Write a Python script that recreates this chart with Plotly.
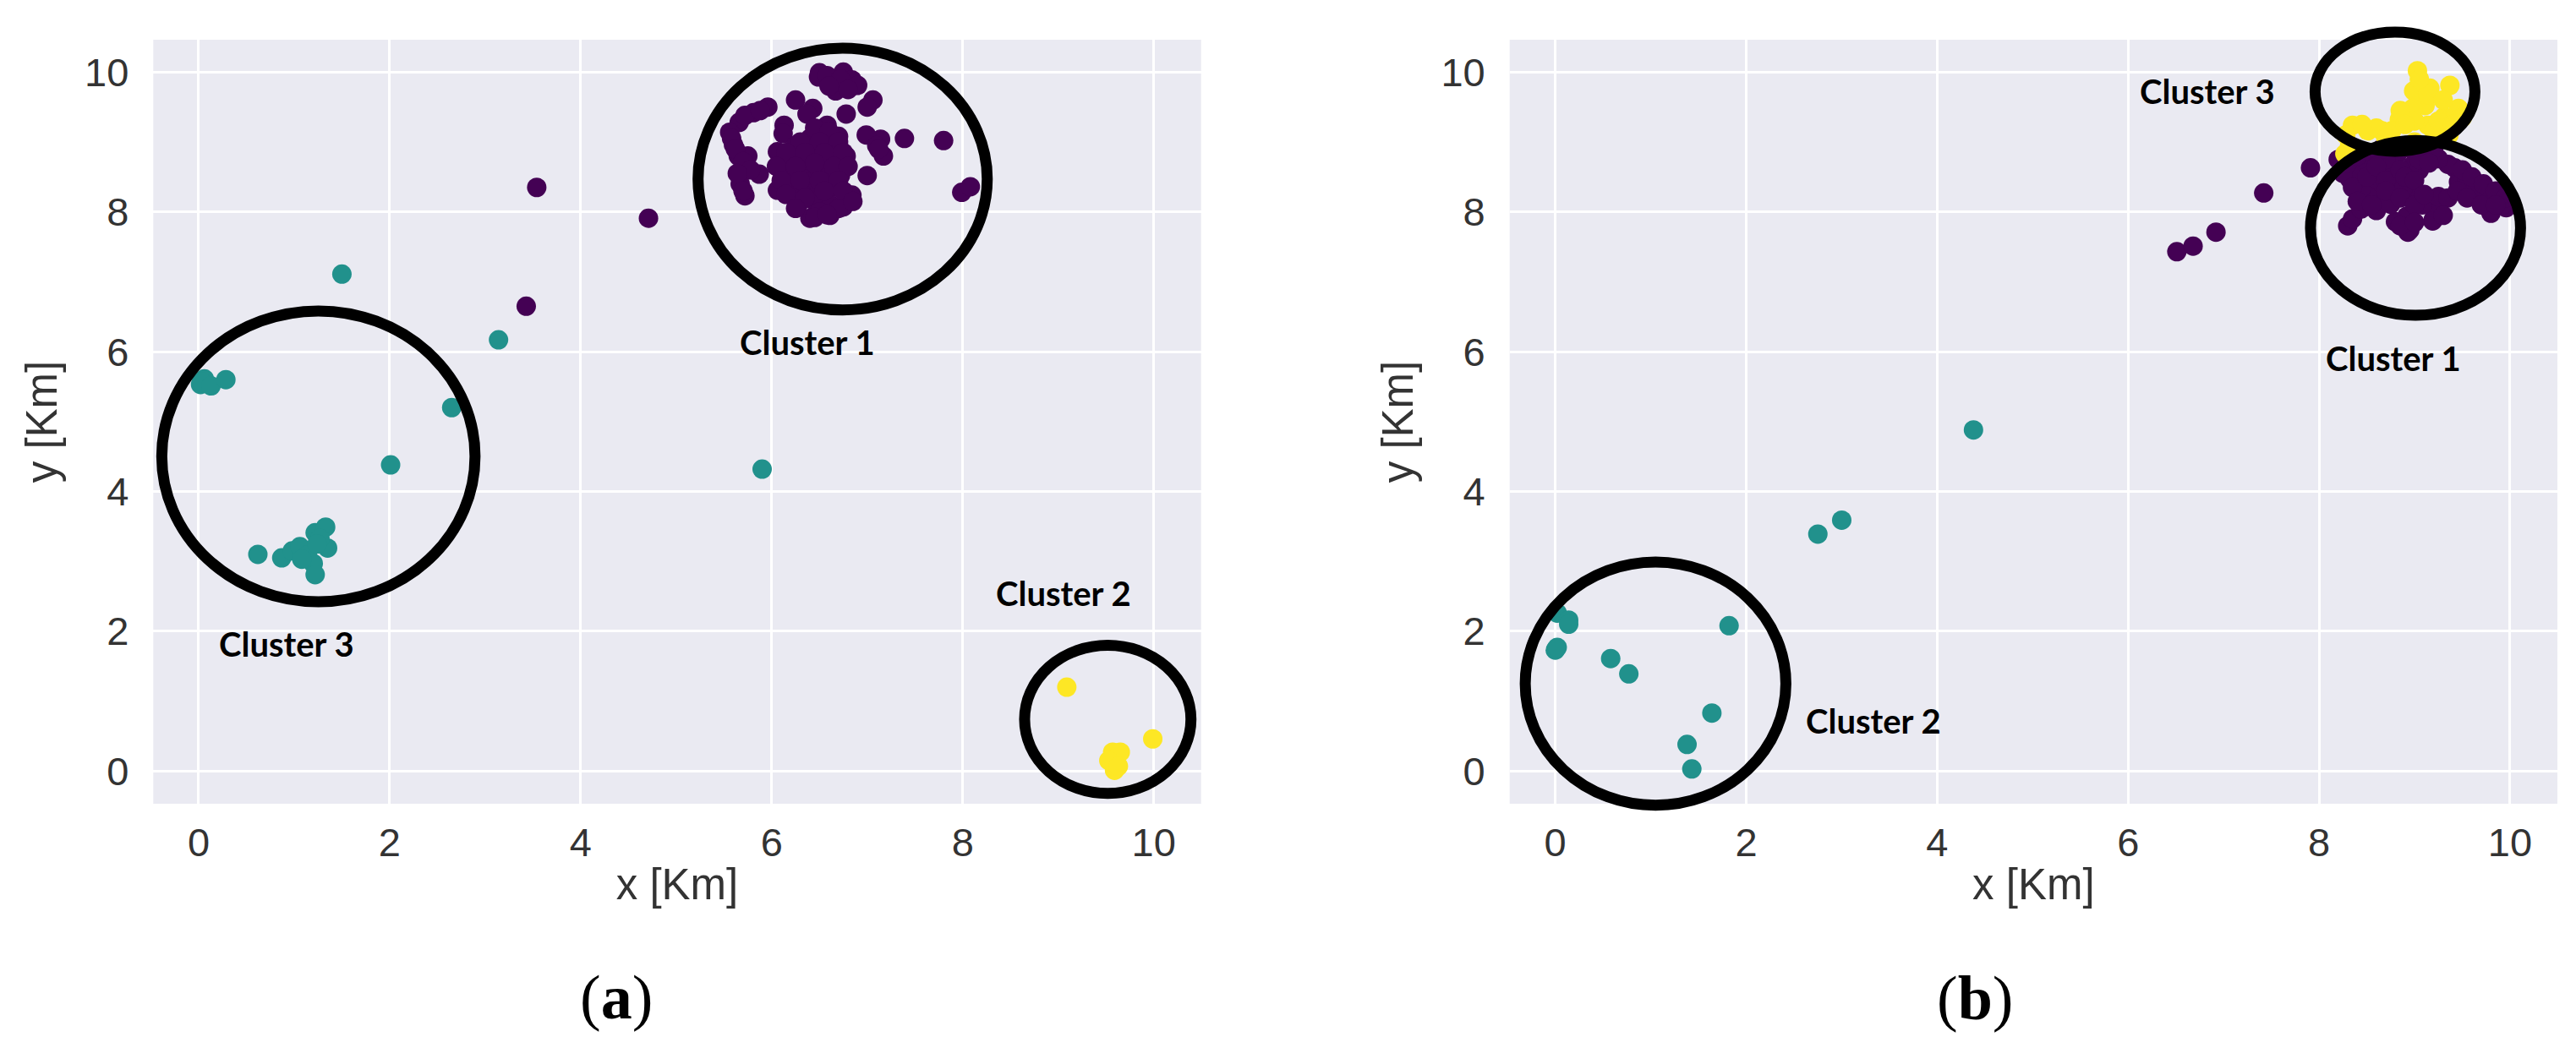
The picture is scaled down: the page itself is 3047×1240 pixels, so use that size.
import plotly.graph_objects as go

# ---------------- data (km) ----------------
# panel (a)
a_c1_x = [3.54, 4.71, 3.43,
          7.39, 7.80, 7.99, 8.08, 7.00, 7.17, 7.14, 6.99, 7.06, 7.00, 6.78, 6.75, 6.50, 6.84, 6.90, 6.67,
          6.49, 6.64, 6.25, 6.43, 6.37, 6.13, 6.12, 5.96, 5.81, 5.66, 5.56, 5.60, 5.65, 5.75, 5.72, 5.87,
          5.67, 5.72, 6.06, 6.06, 6.28, 6.40, 6.61, 6.81, 6.84, 6.75,
          6.58, 6.70, 6.78, 6.72, 6.25, 6.13, 6.22, 6.37, 6.55, 6.45, 6.61, 6.67, 6.55, 6.31, 6.43, 6.67,
          6.35, 6.50, 6.60, 6.40, 6.52, 6.30, 6.45, 6.62, 6.70, 6.20,
          6.45, 6.60, 6.30, 6.50, 6.70, 6.15, 6.35, 6.55, 6.75, 6.05, 6.25, 6.45, 6.65, 6.80,
          6.10, 6.30, 6.50, 6.70, 6.15, 6.35, 6.55, 6.75, 6.25, 6.50, 6.70, 6.85, 6.45, 6.58,
          6.58, 6.72, 6.80, 6.60, 5.58, 5.62, 5.70, 5.78, 5.64, 5.70, 5.72, 5.88, 7.10, 7.12]
a_c1_y = [8.35, 7.91, 6.65,
          9.05, 9.02, 8.28, 8.36, 8.52, 8.80, 9.04, 9.10, 9.60, 9.50, 9.40, 10.0, 9.99, 9.89, 9.81, 9.73,
          9.93, 9.85, 9.60, 9.48, 9.40, 9.24, 9.12, 9.50, 9.42, 9.28, 9.14, 8.96, 8.80, 8.80, 8.68, 8.54,
          8.40, 8.23, 8.86, 8.31, 8.11, 7.91, 7.95, 8.19, 8.24, 8.07,
          9.24, 9.08, 8.80, 8.52, 8.95, 8.68, 8.44, 8.28, 8.19, 8.92, 9.00, 8.68, 8.44, 8.60, 8.44, 8.36,
          8.75, 8.60, 8.80, 9.05, 9.10, 8.30, 8.15, 8.10, 8.95, 8.80,
          9.20, 9.15, 9.00, 9.00, 9.00, 8.85, 8.85, 8.85, 8.85, 8.65, 8.65, 8.70, 8.65, 8.65,
          8.45, 8.45, 8.45, 8.45, 8.25, 8.20, 8.30, 8.30, 8.05, 8.00, 8.05, 8.15, 7.92, 7.96,
          9.95, 9.90, 9.75, 9.80, 9.05, 8.90, 8.72, 8.60, 8.55, 8.30, 9.38, 9.45, 8.95, 8.90]
a_c3_x = [1.50, 3.14, 2.65, 2.01, 5.90,
          0.02, 0.06, 0.03, 0.13, 0.285,
          0.62, 0.87, 0.98, 1.06, 1.14, 1.20, 1.22, 1.22, 1.33, 1.35, 1.27, 1.24, 1.08]
a_c3_y = [7.11, 6.17, 5.20, 4.38, 4.32,
          5.53, 5.61, 5.57, 5.51, 5.60,
          3.10, 3.05, 3.15, 3.21, 3.09, 2.97, 2.81, 3.41, 3.49, 3.19, 3.33, 3.25, 3.03]
a_c2_x = [9.09, 9.99, 9.57, 9.65, 9.59, 9.53, 9.63]
a_c2_y = [1.20, 0.46, 0.27, 0.27, 0.01, 0.15, 0.07]

# panel (b)
b_c1_x = [6.51, 6.68, 6.92, 7.42, 7.91,
          8.30, 8.35, 8.44, 8.60, 8.32, 8.38, 8.51, 8.66, 8.82, 8.80, 8.95, 8.92, 9.01, 9.20, 9.23,
          9.42, 9.35, 9.46, 9.55, 9.65, 9.77, 9.80, 9.90, 9.96, 8.66, 8.57, 8.76, 9.08, 8.98, 8.82,
          9.14, 8.95, 8.51, 8.44, 8.88, 9.93, 9.81, 9.64, 9.25, 9.19, 8.93, 8.75, 8.25, 8.45, 8.70,
          9.05, 9.25,
          8.30, 8.40, 8.55, 8.65, 8.75, 9.05, 9.20, 8.35, 8.50, 8.60, 8.70, 8.85, 8.90, 9.00, 9.05,
          9.15, 9.50, 9.60, 9.72, 9.85, 9.95, 8.40, 8.55, 8.70, 8.85, 9.00, 9.10, 9.35, 9.45, 9.55,
          9.70, 9.85, 8.85, 9.00, 9.30, 8.20]
b_c1_y = [7.43, 7.51, 7.71, 8.27, 8.63,
          7.80, 7.90, 8.04, 8.02, 8.47, 8.63, 8.71, 8.59, 8.43, 7.86, 7.74, 7.94, 8.26, 7.90, 8.10,
          8.63, 8.68, 8.43, 8.43, 8.34, 8.22, 7.98, 8.18, 8.06, 8.26, 8.43, 8.18, 8.10, 8.67, 8.83,
          8.83, 8.91, 8.22, 8.34, 8.34, 8.11, 8.03, 8.35, 8.76, 7.87, 7.71, 8.11, 8.55, 8.85, 8.75,
          8.60, 8.22,
          8.70, 8.80, 8.85, 8.90, 8.95, 8.95, 8.90, 8.35, 8.50, 8.65, 8.45, 8.60, 8.50, 8.45, 8.75,
          8.70, 8.60, 8.50, 8.40, 8.30, 8.20, 8.15, 8.10, 8.30, 8.20, 8.10, 8.25, 8.20, 8.30, 8.20,
          8.10, 8.10, 7.80, 7.85, 7.95, 8.75]
b_c2_x = [4.38, 3.00, 2.75, 1.82, 0.02, 0.14, 0.14, 0.00, 0.02, 0.58, 0.77, 1.64, 1.38, 1.43]
b_c2_y = [4.88, 3.59, 3.39, 2.08, 2.26, 2.16, 2.10, 1.73, 1.77, 1.61, 1.39, 0.83, 0.38, 0.03]
b_c3_x = [9.03, 8.99, 9.16, 9.37, 9.46, 9.31, 8.84, 8.66, 9.11, 9.14, 8.98, 9.14, 8.35, 8.51,
          8.32, 8.76, 9.20, 8.27, 9.00, 9.36,
          8.85, 9.00, 9.25, 9.40, 9.30, 9.05, 8.90, 8.60, 8.45, 8.28, 8.70, 9.50]
b_c3_y = [10.02, 9.73, 9.77, 9.81, 9.48, 9.36, 9.32, 9.16, 9.52, 9.68, 9.48, 9.24, 9.24, 9.16,
          8.95, 9.16, 9.16, 8.83, 9.00, 9.10,
          9.45, 9.30, 9.30, 9.25, 9.60, 9.90, 9.25, 9.20, 9.25, 9.10, 9.05, 9.35]

# hand-drawn circles (centre x, centre y, radius x, radius y) in km
circles_a = [(6.743, 8.47, 1.514, 1.872), (1.254, 4.503, 1.64, 2.08), (9.519, 0.74, 0.871, 1.06)]
circles_b = [(8.795, 9.72, 0.837, 0.852), (9.01, 7.77, 1.10, 1.25), (1.05, 1.25, 1.365, 1.74)]
# cluster labels (text, x, y) in km
labels_a = [("Cluster 1", 6.375, 6.13), ("Cluster 3", 0.92, 1.82), ("Cluster 2", 9.06, 2.54)]
labels_b = [("Cluster 3", 6.83, 9.72), ("Cluster 1", 8.78, 5.91), ("Cluster 2", 3.33, 0.72)]

tick_vals = [0, 2, 4, 6, 8, 10]
tick_text = ["0", "2", "4", "6", "8", "10"]

# ---------------- style ----------------
W, H = 3047, 1240
PURPLE, TEAL, YELLOW = "#440154", "#21918c", "#fde725"
BG = "#eaeaf2"
XR_A = [-0.475, 10.496]
XR_B = [-0.478, 10.496]
YR = [-0.468, 10.463]
YDOM = [1 - 943 / H, 1 - 39 / H]
XDOM_A = [173.3 / W, 1412.7 / W]
XDOM_B = [1777.7 / W, 3017 / W]

fig = go.Figure()


def add_pts(xs, ys, color, xa, ya, name):
    fig.add_trace(go.Scatter(
        x=xs, y=ys, mode="markers", name=name, showlegend=False,
        xaxis=xa, yaxis=ya,
        marker=dict(size=23, color=color, line=dict(width=0), opacity=1),
    ))


add_pts(a_c1_x, a_c1_y, PURPLE, "x", "y", "Cluster 1")
add_pts(a_c3_x, a_c3_y, TEAL, "x", "y", "Cluster 3")
add_pts(a_c2_x, a_c2_y, YELLOW, "x", "y", "Cluster 2")
add_pts(b_c1_x, b_c1_y, PURPLE, "x2", "y2", "Cluster 1")
add_pts(b_c2_x, b_c2_y, TEAL, "x2", "y2", "Cluster 2")
add_pts(b_c3_x, b_c3_y, YELLOW, "x2", "y2", "Cluster 3")


def add_circle(c, xr, yr, xref, yref):
    cx, cy, rx, ry = c
    fx = lambda v: (v - xr[0]) / (xr[1] - xr[0])
    fy = lambda v: (v - yr[0]) / (yr[1] - yr[0])
    fig.add_shape(type="circle", xref=xref + " domain", yref=yref + " domain",
                  x0=fx(cx - rx), x1=fx(cx + rx), y0=fy(cy - ry), y1=fy(cy + ry),
                  line=dict(color="black", width=13), layer="above")


for c in circles_a:
    add_circle(c, XR_A, YR, "x", "y")
for c in circles_b:
    add_circle(c, XR_B, YR, "x2", "y2")

LBL_FONT = dict(family="Lato, Carlito, Liberation Sans", size=40, color="black")
for t, x, y in labels_a:
    fig.add_annotation(x=x, y=y, xref="x", yref="y", text="<b>%s</b>" % t, showarrow=False,
                       font=LBL_FONT, xanchor="center", yanchor="middle")
for t, x, y in labels_b:
    fig.add_annotation(x=x, y=y, xref="x2", yref="y2", text="<b>%s</b>" % t, showarrow=False,
                       font=LBL_FONT, xanchor="center", yanchor="middle")

SUB_FONT = dict(family="Liberation Serif, DejaVu Serif", size=74, color="black")
fig.add_annotation(x=721 / W, y=1 - 1172 / H, xref="paper", yref="paper", text="(<b>a</b>)",
                   showarrow=False, font=SUB_FONT, xanchor="center", yanchor="middle")
fig.add_annotation(x=2328 / W, y=1 - 1173 / H, xref="paper", yref="paper", text="(<b>b</b>)",
                   showarrow=False, font=SUB_FONT, xanchor="center", yanchor="middle")

TICK_FONT = dict(family="Liberation Sans, Arial", size=47, color="#333333")
TITLE_FONT = dict(family="Liberation Sans, Arial", size=51, color="#333333")

xcommon = dict(tickvals=tick_vals, ticktext=tick_text, showgrid=True, gridcolor="white", gridwidth=2.6,
               zeroline=False, showline=False, ticks="", tickfont=TICK_FONT, ticklabelstandoff=14,
               title=dict(text="x [Km]", font=TITLE_FONT, standoff=6), fixedrange=True)
ycommon = dict(tickvals=tick_vals, ticktext=tick_text, showgrid=True, gridcolor="white", gridwidth=2.6,
               zeroline=False, showline=False, ticks="", tickfont=TICK_FONT, ticklabelstandoff=28,
               title=dict(text="y [Km]", font=TITLE_FONT, standoff=16), fixedrange=True,
               range=YR, domain=YDOM)

fig.update_layout(
    width=W, height=H, margin=dict(l=0, r=0, t=0, b=0, autoexpand=False),
    paper_bgcolor="white", plot_bgcolor=BG,
    xaxis=dict(xcommon, domain=XDOM_A, range=XR_A, anchor="y"),
    yaxis=dict(ycommon, anchor="x"),
    xaxis2=dict(xcommon, domain=XDOM_B, range=XR_B, anchor="y2"),
    yaxis2=dict(ycommon, anchor="x2"),
    showlegend=False,
)

fig.write_html("out.html")
